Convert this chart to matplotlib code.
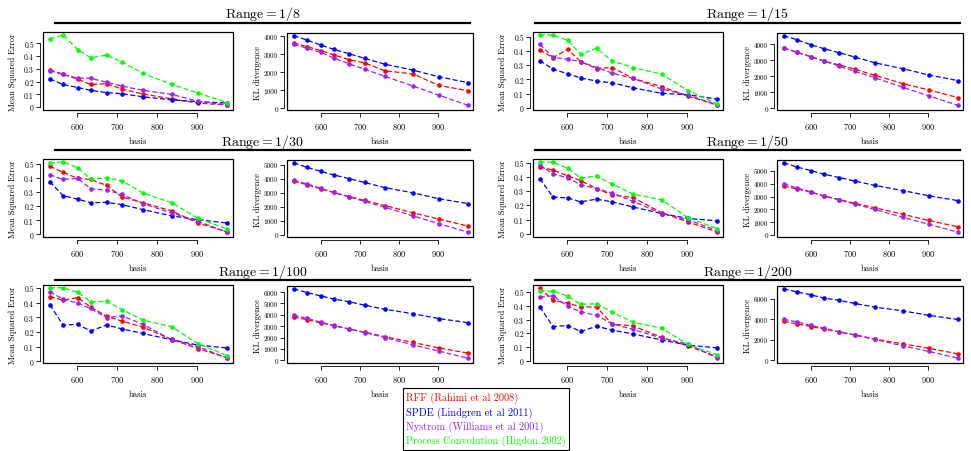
import numpy as np
import matplotlib.pyplot as plt
from matplotlib.patches import Rectangle
from matplotlib.lines import Line2D
from matplotlib.ticker import FixedLocator, FuncFormatter

plt.rcParams['font.family'] = 'serif'
plt.rcParams['font.serif'] = ['cmr10']
plt.rcParams['mathtext.fontset'] = 'cm'
plt.rcParams['axes.formatter.use_mathtext'] = True

basis = [531, 564, 601, 633, 673, 712, 764, 836, 901, 975]
ranges = ['1/8', '1/15', '1/30', '1/50', '1/100', '1/200']

# mean squared error, one row per range
mse_rff = [
    [0.292, 0.259, 0.219, 0.178, 0.184, 0.141, 0.103, 0.065, 0.032, 0.016],
    [0.407, 0.351, 0.412, 0.324, 0.276, 0.283, 0.207, 0.149, 0.083, 0.020],
    [0.483, 0.441, 0.397, 0.390, 0.348, 0.265, 0.225, 0.167, 0.081, 0.017],
    [0.469, 0.447, 0.406, 0.373, 0.317, 0.272, 0.255, 0.147, 0.084, 0.012],
    [0.442, 0.418, 0.435, 0.370, 0.308, 0.274, 0.233, 0.149, 0.087, 0.024],
    [0.530, 0.439, 0.419, 0.391, 0.391, 0.266, 0.254, 0.170, 0.109, 0.028],
]
mse_spde = [
    [0.222, 0.178, 0.154, 0.132, 0.114, 0.105, 0.081, 0.057, 0.043, 0.032],
    [0.332, 0.271, 0.239, 0.210, 0.188, 0.176, 0.141, 0.102, 0.093, 0.061],
    [0.375, 0.275, 0.250, 0.225, 0.228, 0.211, 0.176, 0.132, 0.105, 0.081],
    [0.387, 0.257, 0.252, 0.224, 0.243, 0.224, 0.188, 0.142, 0.108, 0.091],
    [0.387, 0.248, 0.252, 0.207, 0.248, 0.221, 0.190, 0.147, 0.111, 0.091],
    [0.391, 0.249, 0.256, 0.213, 0.251, 0.223, 0.195, 0.152, 0.114, 0.094],
]
mse_nystrom = [
    [0.286, 0.257, 0.227, 0.227, 0.195, 0.165, 0.132, 0.100, 0.046, 0.016],
    [0.446, 0.354, 0.341, 0.324, 0.283, 0.244, 0.207, 0.132, 0.090, 0.022],
    [0.424, 0.390, 0.397, 0.324, 0.314, 0.284, 0.218, 0.152, 0.093, 0.017],
    [0.483, 0.421, 0.392, 0.344, 0.317, 0.286, 0.228, 0.142, 0.099, 0.022],
    [0.474, 0.425, 0.397, 0.361, 0.298, 0.310, 0.252, 0.147, 0.101, 0.022],
    [0.462, 0.472, 0.396, 0.355, 0.330, 0.269, 0.228, 0.165, 0.122, 0.020],
]
mse_pc = [
    [0.535, 0.568, 0.451, 0.389, 0.408, 0.354, 0.265, 0.178, 0.111, 0.035],
    [0.512, 0.510, 0.473, 0.376, 0.417, 0.329, 0.283, 0.237, 0.122, 0.029],
    [0.505, 0.515, 0.473, 0.392, 0.402, 0.380, 0.294, 0.225, 0.115, 0.037],
    [0.505, 0.502, 0.459, 0.392, 0.404, 0.349, 0.279, 0.238, 0.113, 0.036],
    [0.502, 0.502, 0.471, 0.406, 0.409, 0.353, 0.281, 0.236, 0.120, 0.038],
    [0.510, 0.505, 0.470, 0.411, 0.414, 0.353, 0.282, 0.236, 0.119, 0.043],
]

# KL divergence, one row per range
kl_rff = [
    [3633, 3440, 3208, 2976, 2705, 2531, 2087, 1913, 1275, 986],
    [3761, 3522, 3217, 2957, 2717, 2457, 2065, 1543, 1152, 674],
    [3799, 3578, 3260, 3015, 2721, 2451, 2083, 1569, 1127, 637],
    [3817, 3602, 3333, 3065, 2769, 2473, 2124, 1613, 1129, 645],
    [3795, 3584, 3283, 3042, 2741, 2470, 2078, 1566, 1084, 633],
    [3800, 3567, 3300, 3067, 2767, 2500, 2067, 1600, 1167, 633],
]
kl_spde = [
    [4039, 3807, 3517, 3285, 3034, 2783, 2454, 2126, 1758, 1430],
    [4543, 4304, 3978, 3739, 3478, 3217, 2848, 2478, 2087, 1739],
    [5123, 4804, 4510, 4265, 3995, 3725, 3358, 2990, 2574, 2230],
    [5645, 5323, 5027, 4758, 4489, 4220, 3871, 3468, 3065, 2688],
    [6295, 5964, 5663, 5392, 5151, 4849, 4488, 4096, 3675, 3313],
    [7000, 6700, 6400, 6100, 5867, 5567, 5200, 4833, 4400, 4000],
]
kl_nystrom = [
    [3575, 3343, 3111, 2802, 2473, 2184, 1778, 1237, 734, 174],
    [3804, 3500, 3239, 2978, 2630, 2326, 1913, 1304, 783, 196],
    [3897, 3627, 3309, 3015, 2696, 2377, 1961, 1348, 809, 196],
    [4005, 3683, 3360, 3038, 2742, 2419, 1989, 1371, 833, 215],
    [3946, 3705, 3343, 3072, 2741, 2440, 1988, 1355, 813, 181],
    [4000, 3767, 3400, 3167, 2767, 2467, 2033, 1400, 867, 200],
]
kl_step = [1000, 1000, 1000, 1000, 1000, 2000]

labels = ['RFF (Rahimi et al 2008)', 'SPDE (Lindgren et al 2011)',
          'Nystrom (Williams et al 2001)', 'Process Convolution (Higdon 2002)']
colors = ['#ff0000', '#0000ff', '#a020f0', '#00ff00']

W, H = 971, 452
fig = plt.figure(figsize=(W / 100, H / 100), dpi=100)


def px_ax(x0, y0, w, h):
    return fig.add_axes([x0 / W, 1 - (y0 + h) / H, w / W, h / H])


def style(ax, ys, ystep, ysize):
    lo = min(min(y) for y in ys)
    hi = max(max(y) for y in ys)
    span = hi - lo
    ylo, yhi = min(lo - 0.07 * span, -0.01 * span), hi + 0.04 * span
    ax.set_ylim(ylo, yhi)
    ax.set_xlim(514, 989)
    for s in ['top', 'right']:
        ax.spines[s].set_visible(False)
    ax.spines['left'].set_position(('outward', 2))
    ax.spines['bottom'].set_position(('outward', 2))
    for s in ['left', 'bottom']:
        ax.spines[s].set_linewidth(0.6)
    ax.add_patch(Rectangle((0, 0), 1, 1, transform=ax.transAxes, fill=False,
                           lw=0.9, ec='black', clip_on=False))
    ax.set_xticks([600, 700, 800, 900])
    n = int(np.floor(yhi / ystep + 1e-9))
    yt = [k * ystep for k in range(n + 1)]
    ax.yaxis.set_major_locator(FixedLocator(yt))
    ax.yaxis.set_major_formatter(FuncFormatter(lambda v, p: '%g' % round(v, 6)))
    ax.tick_params(axis='x', labelsize=6, length=3, width=0.6, pad=3)
    ax.tick_params(axis='y', labelsize=ysize, length=3, width=0.6, pad=1.5)
    ax.set_xlabel('basis', fontsize=6.3, labelpad=4)
    # axis lines only over the tick range
    ax.spines['left'].set_bounds(yt[0], yt[-1])
    ax.spines['bottom'].set_bounds(600, 900)


def draw(ax, x, ys):
    for y, c in zip(ys, colors):
        ax.plot(x, y, color=c, ls=(0, (4, 2)), lw=0.9, marker='o', ms=2.3,
                mec=c, mfc=c)


rows_top = [33, 160, 286]
groups = [(43, 287, 55, 470), (533, 777, 535, 960)]
title_y = [14, 142, 272]
line_y = [24, 151, 281]

for i, r in enumerate(ranges):
    row, col = i // 2, i % 2
    mx, kx, lx0, lx1 = groups[col]
    top = rows_top[row]

    ax1 = px_ax(mx, top, 190, 78)
    mse = [mse_rff[i], mse_spde[i], mse_nystrom[i], mse_pc[i]]
    draw(ax1, basis, mse)
    style(ax1, mse, 0.1, 5.5)
    ax1.set_ylabel('Mean Squared Error', fontsize=6.2, labelpad=5)

    ax2 = px_ax(kx, top + 1, 186, 77)
    kl = [kl_rff[i], kl_spde[i], kl_nystrom[i]]
    draw(ax2, basis, kl)
    style(ax2, kl, kl_step[i], 5.2)
    ax2.set_ylabel('KL divergence', fontsize=6.2, labelpad=1)

    fig.text((lx0 + lx1) / 2 / W, 1 - title_y[row] / H,
             r'$\mathrm{Range} = %s$' % r,
             ha='center', va='center', fontsize=10)
    fig.add_artist(Line2D([lx0 / W, lx1 / W], [1 - line_y[row] / H] * 2,
                          color='black', lw=1.6))

handles = [Line2D([], [], color=c, lw=0) for c in colors]
leg = fig.legend(handles, labels, loc='lower center',
                 bbox_to_anchor=(486 / W, 0), fontsize=7.4,
                 handlelength=0, handletextpad=0, fancybox=False,
                 edgecolor='black', framealpha=1, borderpad=0.35,
                 labelspacing=0.3, borderaxespad=0.1)
leg.get_frame().set_linewidth(0.8)
for t, c in zip(leg.get_texts(), colors):
    t.set_color(c)

fig.savefig('out.png', dpi=100)
